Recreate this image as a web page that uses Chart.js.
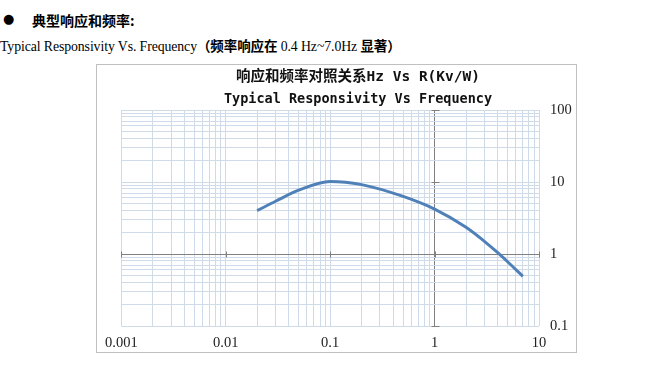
<!DOCTYPE html>
<html>
<head>
<meta charset="utf-8">
<script src="https://cdn.jsdelivr.net/npm/chart.js@4.4.1/dist/chart.umd.min.js"></script>
<style>
  body { margin: 0; background: #fff; width: 670px; height: 378px; position: relative; overflow: hidden; }
  .bullet { position: absolute; left: 3px; top: 11px; font: 13px "DejaVu Sans"; color: #000; }
  .head1 { position: absolute; left: 32px; top: 10px; font: bold 14px "Noto Sans CJK SC"; color: #000; line-height: 20px; }
  .head2 { position: absolute; left: 0px; top: 36px; font: 13.8px "Liberation Serif"; color: #000; line-height: 18px; white-space: nowrap; letter-spacing: -0.1px; }
  .head2 b { font-family: "Noto Sans CJK SC"; font-size: 13.5px; }
  .frame { position: absolute; left: 96px; top: 64px; width: 481px; height: 289px; border: 1px solid #c0c0c0; box-sizing: border-box; }
  .wrap { position: absolute; left: 97px; top: 65px; width: 498px; height: 286px; }
</style>
</head>
<body>
<div class="bullet">●</div>
<div class="head1">典型响应和频率:</div>
<div class="head2">Typical Responsivity Vs. Frequency<b>（频率响应在</b> 0.4 Hz~7.0Hz <b>显著）</b></div>
<div class="frame"></div>
<div class="wrap"><canvas id="respChart"></canvas></div>

<script>
// frequency (Hz) and responsivity (Kv/W)
const freq = [0.02, 0.03, 0.05, 0.1, 0.2, 0.5, 1, 2, 3, 4, 5, 7];
const resp = [4.0, 5.4, 7.7, 10.2, 9.2, 6.3, 4.2, 2.35, 1.5, 1.05, 0.78, 0.49];

// labelled ticks
const xTicks = ['0.001', '0.01', '0.1', '1', '10'];
const yTicks = ['0.1', '1', '10', '100'];

const gridLight = '#cfdbe9';
const axisDark = '#808080';

// log grid: 1..9 in each decade
function logTicks(labels) {
    const out = [];
    for (let i = 0; i < labels.length - 1; i++) {
        const d = Number(labels[i]);
        for (let k = 1; k <= 9; k++) out.push({ value: k * d });
    }
    out.push({ value: Number(labels[labels.length - 1]) });
    return out;
}

function labelFor(labels, value) {
    const hit = labels.find(l => Math.abs(Number(l) - value) / value < 1e-6);
    return hit ? hit : '';
}

function gridColor(ctx) {
    if (ctx.tick && Math.abs(ctx.tick.value - 1) < 1e-9) return axisDark;
    return gridLight;
}

// small tick marks on the two dark axes crossing at (1, 1)
const crossTicks = {
    id: 'crossTicks',
    beforeDatasetsDraw(chart) {
        const ctx = chart.ctx;
        const xs = chart.scales.x, ys = chart.scales.y;
        const x1 = Math.round(xs.getPixelForValue(1)) + 0.5;
        const y1 = Math.round(ys.getPixelForValue(1)) + 0.5;
        ctx.save();
        ctx.strokeStyle = axisDark;
        ctx.lineWidth = 1;
        ctx.beginPath();
        yTicks.forEach(t => {
            const y = Math.round(ys.getPixelForValue(Number(t))) + 0.5;
            ctx.moveTo(x1 - 4, y);
            ctx.lineTo(x1 + 4, y);
        });
        xTicks.forEach(t => {
            const x = Math.round(xs.getPixelForValue(Number(t))) + 0.5;
            ctx.moveTo(x, y1 - 3);
            ctx.lineTo(x, y1 + 3);
        });
        ctx.stroke();
        ctx.restore();
    }
};

const tickFont = { family: '"Liberation Serif", serif', size: 14.5 };

new Chart(document.getElementById('respChart').getContext('2d'), {
    type: 'line',
    data: {
        datasets: [{
            data: freq.map((f, i) => ({ x: f, y: resp[i] })),
            borderColor: '#5080b8',
            borderWidth: 3,
            pointRadius: 0,
            fill: false,
            cubicInterpolationMode: 'monotone'
        }]
    },
    options: {
        responsive: true,
        maintainAspectRatio: false,
        animation: false,
        layout: { padding: { left: 24, top: 0, right: 0, bottom: 0 } },
        plugins: {
            legend: { display: false },
            tooltip: { enabled: false },
            title: {
                display: true,
                text: '响应和频率对照关系Hz Vs R(Kv/W)',
                color: '#111',
                font: { family: '"DejaVu Sans Mono", "Noto Sans CJK SC"', size: 14.5, weight: 'bold', lineHeight: '18px' },
                padding: { top: 3, bottom: 4 }
            },
            subtitle: {
                display: true,
                text: 'Typical Responsivity Vs Frequency',
                color: '#111',
                font: { family: '"DejaVu Sans Mono", "Noto Sans CJK SC"', size: 13.5, weight: 'bold', lineHeight: '16px' },
                padding: { top: 1, bottom: 3 }
            }
        },
        scales: {
            x: {
                type: 'logarithmic',
                min: 0.001,
                max: 10,
                border: { display: false },
                grid: { color: gridColor, drawTicks: false },
                afterBuildTicks: s => { s.ticks = logTicks(xTicks); },
                afterFit: s => { s.height = 25; },
                ticks: {
                    autoSkip: false,
                    maxRotation: 0,
                    padding: 8,
                    color: '#222',
                    font: tickFont,
                    callback: v => labelFor(xTicks, v)
                }
            },
            y: {
                type: 'logarithmic',
                position: 'right',
                min: 0.1,
                max: 100,
                border: { display: false },
                grid: { color: gridColor, drawTicks: false },
                afterBuildTicks: s => { s.ticks = logTicks(yTicks); },
                afterFit: s => { s.width = 56; },
                ticks: {
                    autoSkip: false,
                    padding: 11,
                    color: '#222',
                    font: tickFont,
                    callback: v => labelFor(yTicks, v)
                }
            }
        }
    },
    plugins: [crossTicks]
});
</script>
</body>
</html>
